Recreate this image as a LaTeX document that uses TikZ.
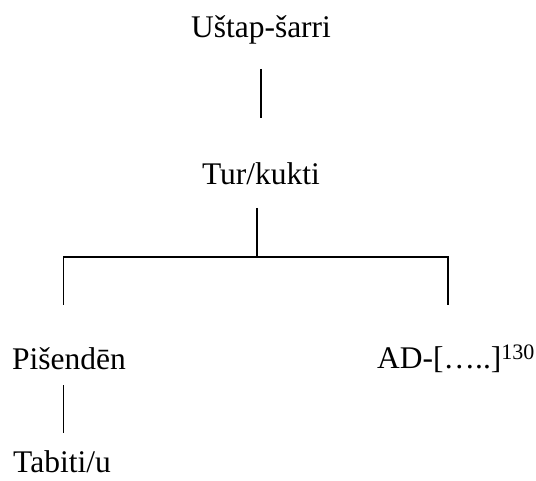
\documentclass[tikz,border=0pt]{standalone}
\usepackage{fontspec}
\setmainfont{Liberation Serif}
\begin{document}
\begin{tikzpicture}[x=1pt,y=-1pt,
  lbl/.style={inner sep=0pt,font=\fontsize{31.5}{36}\selectfont},
  ln/.style={line width=1.4pt}]
\useasboundingbox (0,0) rectangle (536,481);
\node[lbl,anchor=base] (u) at (261,38) {Uštap-šarri};
\node[lbl,anchor=base] (t) at (261,185) {Tur/kukti};
\node[lbl,anchor=base west] (p) at (12,370) {Pišendēn};
\node[lbl,anchor=base west] (ad) at (377,369) {AD-[…..]\textsuperscript{130}};
\node[lbl,anchor=base west] (tb) at (13,472) {Tabiti/u};
\coordinate (u1) at (261,69);
\coordinate (u2) at (261,118);
\coordinate (t1) at (257,208);
\coordinate (t2) at (257,257);
\coordinate (hl) at (63.5,257);
\coordinate (hr) at (448,257);
\coordinate (pl) at (63.5,305);
\coordinate (ar) at (448,305);
\coordinate (p1) at (63.5,385);
\coordinate (p2) at (63.5,433);
\draw[ln] (u1) -- (u2);
\draw[ln] (t1) -- (t2);
\draw[ln] (pl) -- (hl) -- (hr) -- (ar);
\draw[ln] (p1) -- (p2);
\end{tikzpicture}
\end{document}
